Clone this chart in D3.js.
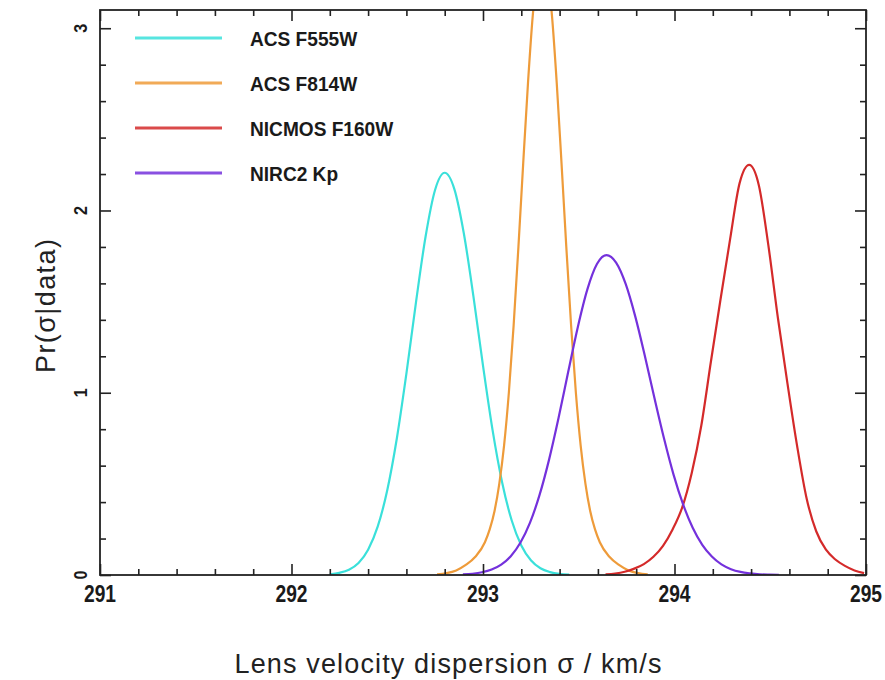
<!DOCTYPE html>
<html>
<head>
<meta charset="utf-8">
<script src="https://cdn.jsdelivr.net/npm/d3@7/dist/d3.min.js"></script>
<style>
  html, body { margin: 0; padding: 0; background: #fff; }
  svg { display: block; }
</style>
</head>
<body>
<svg id="chart" width="885" height="680"></svg>
<script>
// ---------------- data ----------------
const seriesNames = ["ACS F555W", "ACS F814W", "NICMOS F160W", "NIRC2 Kp"];
const seriesColors = ["#3ae0da", "#ee9b3a", "#d42a2a", "#7431dc"];

const cyanSigma = [292.20, 292.25, 292.30, 292.35, 292.40, 292.45, 292.50, 292.55, 292.60, 292.65,
                   292.70, 292.75, 292.80, 292.85, 292.90, 292.95, 293.00, 293.05, 293.10, 293.15,
                   293.20, 293.25, 293.30, 293.35, 293.40, 293.45];
const cyanPr    = [0.004, 0.012, 0.029, 0.066, 0.139, 0.265, 0.465, 0.749, 1.105, 1.496,
                   1.856, 2.114, 2.207, 2.119, 1.874, 1.529, 1.149, 0.795, 0.508, 0.299,
                   0.162, 0.081, 0.037, 0.016, 0.006, 0.002];

const orangeSigma = [292.76, 292.81, 292.86, 292.91, 292.96, 293.01, 293.035, 293.06, 293.085, 293.11,
                     293.135, 293.16, 293.185, 293.21, 293.235, 293.26, 293.285, 293.31, 293.335, 293.36,
                     293.385, 293.41, 293.435, 293.46, 293.485, 293.51, 293.535, 293.56, 293.585, 293.61,
                     293.66, 293.71, 293.76, 293.81, 293.86];
const orangePr    = [0.003, 0.010, 0.025, 0.055, 0.10, 0.18, 0.25, 0.35, 0.50, 0.71,
                     1.00, 1.37, 1.80, 2.26, 2.70, 3.07, 3.31, 3.40, 3.31, 3.07,
                     2.70, 2.26, 1.80, 1.37, 1.00, 0.71, 0.50, 0.35, 0.25, 0.18,
                     0.10, 0.055, 0.025, 0.010, 0.003];

const redSigma = [293.64, 293.69, 293.74, 293.79, 293.84, 293.89, 293.94, 293.99, 294.04, 294.09,
                  294.14, 294.19, 294.24, 294.29, 294.34, 294.39, 294.44, 294.49, 294.54, 294.59,
                  294.64, 294.69, 294.74, 294.79, 294.84, 294.89, 294.94, 294.99];
const redPr    = [0.003, 0.008, 0.018, 0.035, 0.06, 0.10, 0.16, 0.25, 0.37, 0.56,
                  0.82, 1.17, 1.51, 1.84, 2.15, 2.25, 2.14, 1.81, 1.41, 1.05,
                  0.71, 0.42, 0.24, 0.14, 0.085, 0.05, 0.025, 0.01];

const purpleSigma = [292.895, 292.945, 292.995, 293.045, 293.095, 293.145, 293.195, 293.245, 293.295, 293.345,
                     293.395, 293.445, 293.495, 293.545, 293.595, 293.645, 293.695, 293.745, 293.795, 293.845,
                     293.895, 293.945, 293.995, 294.045, 294.095, 294.145, 294.195, 294.245, 294.295, 294.345,
                     294.395, 294.445, 294.495, 294.545];
const purplePr    = [0.003, 0.007, 0.015, 0.030, 0.057, 0.103, 0.177, 0.286, 0.438, 0.633,
                     0.864, 1.115, 1.360, 1.567, 1.706, 1.755, 1.714, 1.597, 1.419, 1.203,
                     0.972, 0.750, 0.551, 0.387, 0.259, 0.165, 0.101, 0.058, 0.032, 0.017,
                     0.009, 0.004, 0.002, 0.001];

const xMajorTicks = [291, 292, 293, 294, 295];
const xTickLabels = ["291", "292", "293", "294", "295"];
const yMajorTicks = [0, 1, 2, 3];
const yTickLabels = ["0", "1", "2", "3"];
const xTitle = "Lens velocity dispersion σ / km/s";
const yTitle = "Pr(σ|data)";

(function () {
// ---------------- layout ----------------
const svg = d3.select("#chart");
const pL = 100, pR = 866, pT = 10, pB = 575;
const x = d3.scaleLinear().domain([291, 295]).range([pL, pR]);
const y = d3.scaleLinear().domain([0, 3.1]).range([pB, pT]);

const xMinor = d3.range(291, 295.001, 0.2).map(v => +v.toFixed(1)).filter(v => !xMajorTicks.includes(v));
const yMinor = d3.range(0, 3.101, 0.2).map(v => +v.toFixed(1)).filter(v => !yMajorTicks.includes(v));

svg.append("defs").append("clipPath").attr("id", "plotclip")
  .append("rect").attr("x", pL).attr("y", pT).attr("width", pR - pL).attr("height", pB - pT);

// curves
const series = [
  {sigma: cyanSigma, pr: cyanPr},
  {sigma: orangeSigma, pr: orangePr},
  {sigma: redSigma, pr: redPr},
  {sigma: purpleSigma, pr: purplePr}
];
const line = d3.line().x(d => x(d[0])).y(d => y(d[1])).curve(d3.curveMonotoneX);
const curves = svg.append("g").attr("clip-path", "url(#plotclip)");
series.forEach((s, i) => {
  curves.append("path")
    .datum(s.sigma.map((v, j) => [v, s.pr[j]]))
    .attr("fill", "none")
    .attr("stroke", seriesColors[i])
    .attr("stroke-width", 2.2)
    .attr("stroke-linejoin", "round")
    .attr("d", line);
});

// ticks (inward, on all four sides)
const tickColor = "#222";
function styleAxis(g) {
  g.select(".domain").remove();
  g.selectAll(".tick line").attr("stroke", tickColor).attr("stroke-width", 1.6);
  g.selectAll(".tick text").remove();
}
const majorLen = 11, minorLen = 6;
svg.append("g").attr("transform", `translate(0,${pB})`)
  .call(d3.axisBottom(x).tickValues(xMajorTicks).tickSize(-majorLen)).call(styleAxis);
svg.append("g").attr("transform", `translate(0,${pB})`)
  .call(d3.axisBottom(x).tickValues(xMinor).tickSize(-minorLen)).call(styleAxis);
svg.append("g").attr("transform", `translate(0,${pT})`)
  .call(d3.axisTop(x).tickValues(xMajorTicks).tickSize(-majorLen)).call(styleAxis);
svg.append("g").attr("transform", `translate(0,${pT})`)
  .call(d3.axisTop(x).tickValues(xMinor).tickSize(-minorLen)).call(styleAxis);
svg.append("g").attr("transform", `translate(${pL},0)`)
  .call(d3.axisLeft(y).tickValues(yMajorTicks).tickSize(-majorLen)).call(styleAxis);
svg.append("g").attr("transform", `translate(${pL},0)`)
  .call(d3.axisLeft(y).tickValues(yMinor).tickSize(-minorLen)).call(styleAxis);
svg.append("g").attr("transform", `translate(${pR},0)`)
  .call(d3.axisRight(y).tickValues(yMajorTicks).tickSize(-majorLen)).call(styleAxis);
svg.append("g").attr("transform", `translate(${pR},0)`)
  .call(d3.axisRight(y).tickValues(yMinor).tickSize(-minorLen)).call(styleAxis);

// frame
svg.append("rect").attr("x", pL).attr("y", pT).attr("width", pR - pL).attr("height", pB - pT)
  .attr("fill", "none").attr("stroke", tickColor).attr("stroke-width", 1.8);

// tick labels
const labFont = "'Liberation Sans', Arial, sans-serif";
xMajorTicks.forEach((v, i) => {
  svg.append("g").attr("transform", `translate(${x(v)},602) scale(0.8,1)`)
    .append("text").attr("text-anchor", "middle")
    .attr("font-family", labFont).attr("font-weight", "bold").attr("font-size", 24)
    .attr("fill", "#1a1a1a").text(xTickLabels[i]);
});
yMajorTicks.forEach((v, i) => {
  svg.append("g").attr("transform", `translate(87,${y(v)}) rotate(-90) scale(0.85,1)`)
    .append("text").attr("text-anchor", "middle")
    .attr("font-family", labFont).attr("font-weight", "bold").attr("font-size", 19)
    .attr("fill", "#1a1a1a").text(yTickLabels[i]);
});

// legend
const legendY = d3.scaleLinear().domain([0, 1]).range([38, 83]);
seriesNames.forEach((name, i) => {
  const ly = legendY(i);
  svg.append("line").attr("x1", 135).attr("x2", 222).attr("y1", ly).attr("y2", ly)
    .attr("stroke", seriesColors[i]).attr("stroke-width", 3).attr("stroke-opacity", 0.85);
  svg.append("g").attr("transform", `translate(250,${ly + 7.5}) scale(0.91,1)`)
    .append("text").attr("font-family", labFont).attr("font-weight", "bold").attr("font-size", 21)
    .attr("fill", "#1a1a1a").text(name);
});

// axis titles
svg.append("text").attr("x", 448).attr("y", 673).attr("text-anchor", "middle")
  .attr("font-family", labFont).attr("font-size", 27).attr("fill", "#222")
  .attr("textLength", 427).attr("lengthAdjust", "spacing").text(xTitle);
svg.append("g").attr("transform", "translate(55,306) rotate(-90)")
  .append("text").attr("text-anchor", "middle")
  .attr("font-family", labFont).attr("font-size", 27).attr("fill", "#222")
  .attr("textLength", 134).attr("lengthAdjust", "spacing").text(yTitle);
})();
</script>
</body>
</html>
